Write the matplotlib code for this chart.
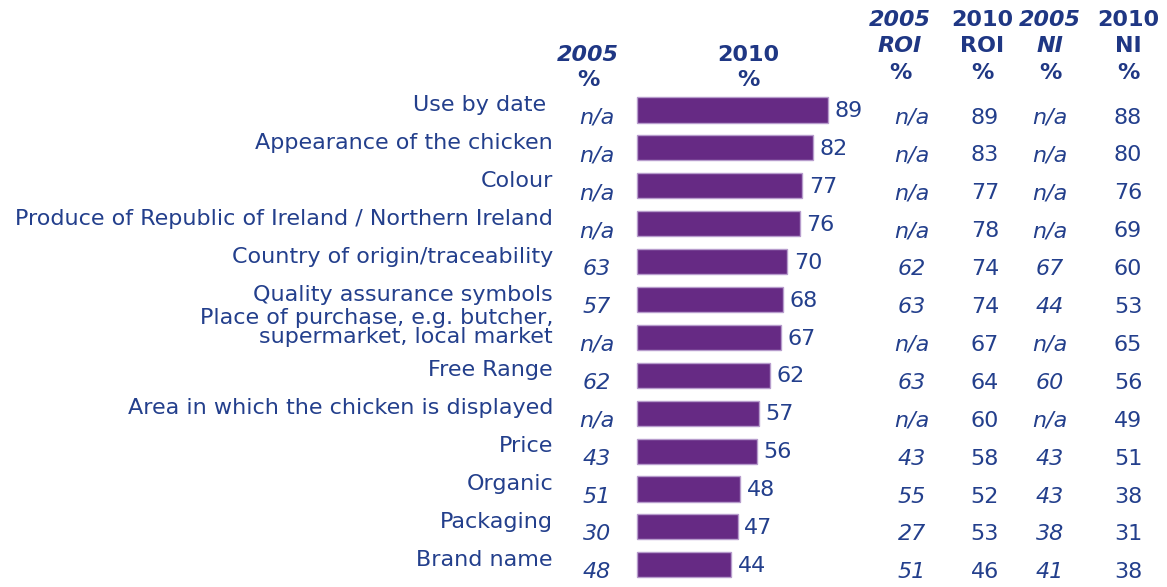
import matplotlib
matplotlib.use("Agg")
import matplotlib.pyplot as plt

# Survey data: importance of factors when buying chicken (%)
categories = [
    "Use by date ",
    "Appearance of the chicken",
    "Colour",
    "Produce of Republic of Ireland / Northern Ireland",
    "Country of origin/traceability",
    "Quality assurance symbols",
    "Place of purchase, e.g. butcher,\nsupermarket, local market",
    "Free Range",
    "Area in which the chicken is displayed",
    "Price",
    "Organic",
    "Packaging",
    "Brand name",
]
all_2010 = [89, 82, 77, 76, 70, 68, 67, 62, 57, 56, 48, 47, 44]
all_2005 = ["n/a", "n/a", "n/a", "n/a", "63", "57", "n/a", "62", "n/a", "43", "51", "30", "48"]
roi_2005 = ["n/a", "n/a", "n/a", "n/a", "62", "63", "n/a", "63", "n/a", "43", "55", "27", "51"]
roi_2010 = ["89", "83", "77", "78", "74", "74", "67", "64", "60", "58", "52", "53", "46"]
ni_2005 = ["n/a", "n/a", "n/a", "n/a", "67", "44", "n/a", "60", "n/a", "43", "43", "38", "41"]
ni_2010 = ["88", "80", "76", "69", "60", "53", "65", "56", "49", "51", "38", "31", "38"]

TEXT = "#233f8c"
HEAD = "#1f3784"
BAR = "#662a84"
EDGE = "#b79ccc"

W, H = 1167, 587
fig = plt.figure(figsize=(W / 100, H / 100), dpi=100)
ax = fig.add_axes([0, 0, 1, 1])

# value scale: px per percentage point, row spacing in px
px_per_unit = 2.146
row_px = 37.9
bar_x0 = 637
first_row_y = 110
ax.set_xlim(-bar_x0 / px_per_unit, (W - bar_x0) / px_per_unit)
ax.set_ylim((H - first_row_y) / row_px, -first_row_y / row_px)
ax.axis("off")

n = len(categories)
rows = list(range(n))
ax.barh(rows, all_2010, height=0.66, color=BAR, edgecolor=EDGE, linewidth=1.0)

def px(x):
    return (x - bar_x0) / px_per_unit

fs = 16
for i in rows:
    lab = categories[i]
    if "\n" in lab:
        ax.text(px(553), i - 0.27, lab, ha="right", va="center", fontsize=fs,
                color=TEXT, linespacing=0.95)
    else:
        ax.text(px(553), i - 0.13, lab, ha="right", va="center", fontsize=fs, color=TEXT)
    ax.text(all_2010[i] + 3.0, i + 0.03, str(all_2010[i]), ha="left", va="center",
            fontsize=fs, color=TEXT)
    yv = i + 0.2
    ax.text(px(597), yv, all_2005[i], ha="center", va="center", fontsize=fs,
            color=TEXT, style="italic")
    ax.text(px(912), yv, roi_2005[i], ha="center", va="center", fontsize=fs,
            color=TEXT, style="italic")
    ax.text(px(985), yv, roi_2010[i], ha="center", va="center", fontsize=fs, color=TEXT)
    ax.text(px(1050), yv, ni_2005[i], ha="center", va="center", fontsize=fs,
            color=TEXT, style="italic")
    ax.text(px(1128), yv, ni_2010[i], ha="center", va="center", fontsize=fs, color=TEXT)

# column headers
hfs = 16
def hdr(xp, lines, ys, italic):
    for t, yp in zip(lines, ys):
        ax.text(px(xp), (yp - first_row_y) / row_px, t, ha="center", va="center",
                fontsize=hfs, color=HEAD, fontweight="bold",
                style="italic" if italic and t != "%" else "normal")

hdr(588, ["2005", "%"], [55, 80], True)
hdr(748, ["2010", "%"], [55, 80], False)
hdr(900, ["2005", "ROI", "%"], [20, 46, 73], True)
hdr(982, ["2010", "ROI", "%"], [20, 46, 73], False)
hdr(1050, ["2005", "NI", "%"], [20, 46, 73], True)
hdr(1128, ["2010", "NI", "%"], [20, 46, 73], False)

fig.savefig("out.png", dpi=100)
